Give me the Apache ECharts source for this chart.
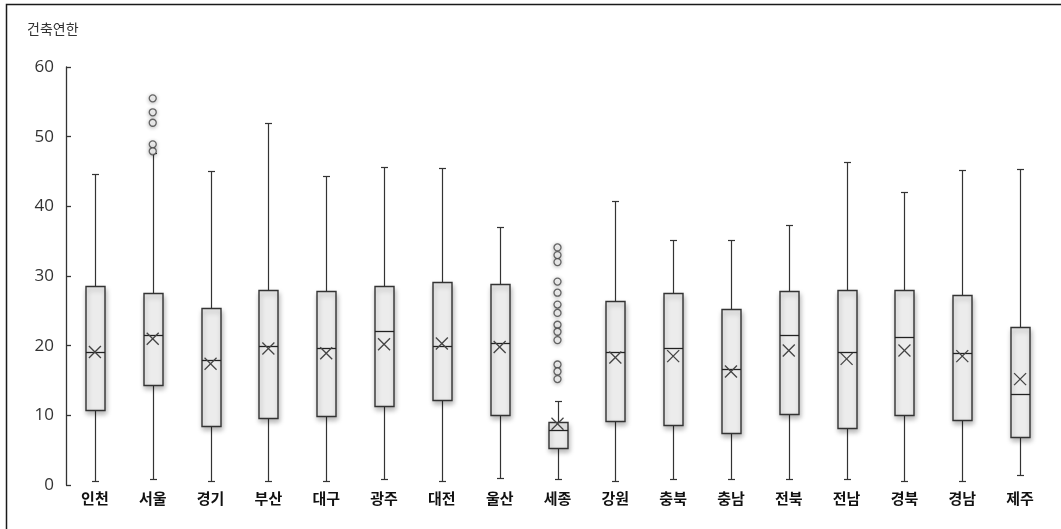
<!DOCTYPE html>
<html>
<head>
<meta charset="utf-8">
<script src="https://cdn.jsdelivr.net/npm/echarts@6/dist/echarts.min.js"></script>
<style>
  html, body { margin: 0; padding: 0; background: #fff; }
  #chart { width: 1061px; height: 529px; }
</style>
</head>
<body>
<div id="chart"></div>
<script>
// 지역별 건축연한 분포 (상자수염그림)
const categories = ['인천', '서울', '경기', '부산', '대구', '광주', '대전', '울산', '세종',
                    '강원', '충북', '충남', '전북', '전남', '경북', '경남', '제주'];
const minV  = [0.6, 0.9, 0.6, 0.6, 0.6, 0.8, 0.6, 1.0, 0.9, 0.6, 0.9, 0.9, 0.8, 0.8, 0.6, 0.6, 1.5];
const q1V   = [10.8, 14.4, 8.4, 9.6, 9.9, 11.4, 12.2, 10.0, 5.3, 9.2, 8.6, 7.4, 10.2, 8.2, 10.0, 9.3, 6.9];
const medV  = [19.1, 21.6, 18.0, 20.0, 19.6, 22.1, 20.0, 20.4, 7.9, 19.1, 19.6, 16.6, 21.5, 19.1, 21.3, 18.9, 13.0];
const q3V   = [28.6, 27.6, 25.4, 28.0, 27.8, 28.5, 29.2, 28.9, 9.1, 26.4, 27.5, 25.2, 27.9, 28.0, 28.0, 27.3, 22.7];
const maxV  = [44.6, 47.6, 45.1, 52.0, 44.3, 45.6, 45.5, 37.1, 12.1, 40.8, 35.1, 35.1, 37.3, 46.4, 42.0, 45.2, 45.3];
const meanV = [19.1, 21.0, 17.4, 19.6, 18.9, 20.2, 20.3, 19.8, 8.8, 18.3, 18.5, 16.3, 19.3, 18.1, 19.3, 18.5, 15.2];
// 이상값: [지역, 건축연한]
const outliers = [
  ['서울', 55.5], ['서울', 53.5], ['서울', 52.0], ['서울', 48.9], ['서울', 47.9],
  ['세종', 34.1], ['세종', 33.0], ['세종', 32.0], ['세종', 29.2], ['세종', 27.6],
  ['세종', 25.9], ['세종', 24.7], ['세종', 23.0], ['세종', 22.0], ['세종', 20.8],
  ['세종', 17.3], ['세종', 16.3], ['세종', 15.2]
];
const yTicks = { min: 0, max: 60, interval: 10 };

const boxData = categories.map((c, i) => [i, minV[i], q1V[i], medV[i], q3V[i], maxV[i], meanV[i]]);

const STROKE = '#333';
const snap = v => Math.round(v) + 0.5;

function renderBox(params, api) {
  const i = api.value(0);
  const cx = snap(api.coord([i, 0])[0]);
  const y = k => snap(api.coord([i, api.value(k)])[1]);
  const yMin = y(1), yQ1 = y(2), yMed = y(3), yQ3 = y(4), yMax = y(5);
  const meanPt = api.coord([i, api.value(6)]);
  const mx = meanPt[0], my = meanPt[1];
  const hw = 9.5, cap = 3.5, xs = 6;
  const line = (x1, y1, x2, y2, w, c) => ({
    type: 'line',
    shape: { x1, y1, x2, y2 },
    style: { stroke: c || STROKE, lineWidth: w || 1.2 }
  });
  return {
    type: 'group',
    children: [
      line(cx, yQ3, cx, yMax),
      line(cx, yQ1, cx, yMin),
      line(cx - cap, yMax, cx + cap, yMax),
      line(cx - cap, yMin, cx + cap, yMin),
      {
        type: 'rect',
        shape: { x: cx - hw, y: yQ3, width: hw * 2, height: yQ1 - yQ3 },
        style: {
          fill: '#ececec', stroke: STROKE, lineWidth: 1.4,
          shadowBlur: 5, shadowOffsetX: 1, shadowOffsetY: 3,
          shadowColor: 'rgba(0,0,0,0.28)'
        }
      },
      line(cx - hw, yMed, cx + hw, yMed, 1.3, '#222'),
      line(mx - xs, my - xs, mx + xs, my + xs, 1.3, '#444'),
      line(mx - xs, my + xs, mx + xs, my - xs, 1.3, '#444')
    ]
  };
}

const chart = echarts.init(document.getElementById('chart'), null, { renderer: 'canvas' });
chart.setOption({
  backgroundColor: '#fff',
  animation: false,
  title: {
    text: '건축연한',
    left: 22, top: 17,
    textStyle: { fontFamily: 'Noto Sans CJK KR', fontSize: 14, fontWeight: 'normal', color: '#333' }
  },
  graphic: [{
    type: 'polyline',
    shape: { points: [[6.5, 540], [6.5, 4.5], [1070, 4.5]] },
    style: { stroke: '#1a1a1a', lineWidth: 1.5, fill: null },
    silent: true
  }],
  grid: { left: 66, right: 12, top: 67, bottom: 44 },
  xAxis: {
    type: 'category',
    data: categories,
    boundaryGap: true,
    axisLine: { show: false },
    axisTick: { show: false },
    axisLabel: {
      margin: 6,
      fontFamily: 'Noto Sans CJK KR',
      fontSize: 15,
      fontWeight: 'bold',
      color: '#111'
    }
  },
  yAxis: {
    type: 'value',
    min: yTicks.min, max: yTicks.max, interval: yTicks.interval,
    axisLine: { show: true, lineStyle: { color: '#333', width: 1.3 } },
    axisTick: { show: true, inside: true, length: 5, lineStyle: { color: '#333', width: 1.3 } },
    splitLine: { show: false },
    axisLabel: { margin: 12, fontFamily: 'Open Sans', fontSize: 17, color: '#333' }
  },
  series: [
    {
      type: 'custom',
      renderItem: renderBox,
      data: boxData,
      encode: { x: 0, y: [1, 2, 3, 4, 5, 6] },
      z: 2
    },
    {
      type: 'scatter',
      data: outliers,
      symbol: 'circle',
      symbolSize: 7,
      itemStyle: {
        color: '#fff', borderColor: '#444', borderWidth: 1.3,
        shadowBlur: 4, shadowOffsetY: 1, shadowColor: 'rgba(0,0,0,0.3)'
      },
      z: 3
    }
  ]
});
</script>
</body>
</html>
